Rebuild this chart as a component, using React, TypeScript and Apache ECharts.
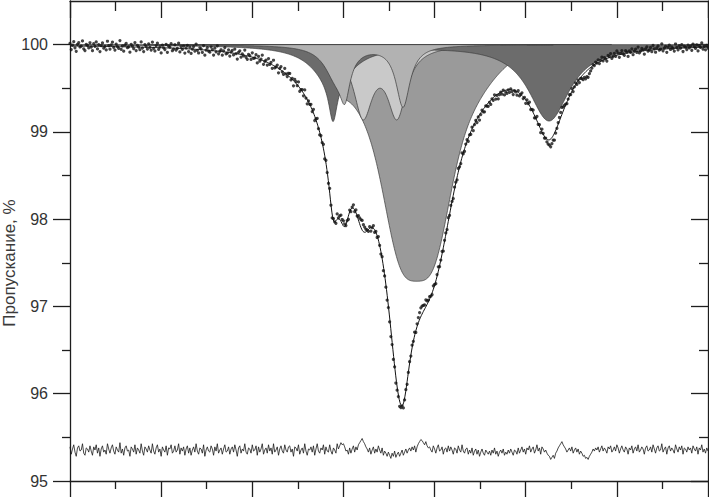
import React, { useEffect, useRef } from 'react';
import * as echarts from 'echarts';

// ---- axis frame (velocity axis has no labels) ----
const X_MIN = -3.5;
const X_MAX = 3.5;
const Y_MIN = 95;
const Y_MAX = 100.5;
const xMajorTicks = [-3.5, -2.5, -1.5, -0.5, 0.5, 1.5, 2.5, 3.5];
const xMinorTicks = [-3, -2, -1, 0, 1, 2, 3];
const yMajorTicks = [95, 96, 97, 98, 99, 100];
const yMinorTicks = [95.5, 96.5, 97.5, 98.5, 99.5];
const yAxisTitle = 'Пропускание, %';

// ---- fitted sub-spectra: [centre (mm/s), depth (%), half width (mm/s), shape] ----
// L = Lorentzian, G = Gaussian
const compDark = [
  [-0.614, 0.45, 0.055, 'L'],
  [-0.614, 0.42, 0.263, 'L'],
  [1.756, 0.87, 0.274, 'L'],
];
const compLight = [
  [-0.483, 0.42, 0.066, 'L'],
  [-0.582, 0.35, 0.154, 'L'],
  [0.154, 0.7, 0.093, 'L'],
];
const compPale = [
  [-0.285, 0.78, 0.128, 'L'],
  [0.088, 0.78, 0.128, 'L'],
];
const compMid = [
  [0.132, 1.0, 0.1975, 'G'],
  [0.483, 1.0, 0.1975, 'G'],
  [0.307, 1.55, 0.603, 'G'],
  [-0.538, 0.18, 0.132, 'L'],
];
// weak broad terms present in the total fit only
const fitExtra = [
  [1.756, 0.17, 0.132, 'L'],
  [-0.922, 0.16, 0.494, 'L'],
];

// ---- residual (data - fit), in 0.01 % units, one value per channel ----
const residual = [
  3, -4, 1, 5, -2, -6, 2, 4, -1, 0, 6, -3, -5, 2, 1, -2,
  4, -1, -5, 3, 0, 5, -3, 2, -6, 1, 4, -2, 0, -4, 6, 1,
  -3, 2, 5, -1, -4, 3, 0, -2, 7, -3, 1, -5, 2, 4, -1, 0,
  -6, 3, 1, -2, 5, -4, 2, 0, -3, 6, -1, -5, 3, 1, -2, 4,
  0, -3, 6, -1, -4, 2, 5, -2, 1, -6, 3, 0, -2, 4, -5, 2,
  1, 5, -3, -1, 4, -2, 0, 6, -4, 2, -1, 3, -5, 1, 4, -3,
  2, -5, 0, 3, -2, 6, -1, -4, 2, 1, -3, 5, -6, 0, 3, -1,
  -2, 4, 1, -5, 3, -1, 6, -3, 0, 2, -4, 1, 5, -2, -1, 3,
  -4, 1, 3, -2, 5, 0, -6, 2, 4, -3, 1, -1, 6, -2, -4, 2,
  1, -3, 5, -1, 0, 4, -5, 3, -2, 1, 6, -4, 0, 2, -3, 5,
  -1, 2, -4, 6, -2, 0, 3, -5, 1, 4, -1, -3, 5, 0, -2, 3,
  4, -2, 1, -6, 3, 2, -1, 5, -4, 0, 2, -3, 6, -1, -5, 1,
  0, 3, -2, 4, -5, 1, 6, -1, -3, 2, 0, 5, -4, 3, -1, -2,
  5, -1, -4, 2, 0, -3, 6, 1, 4, 7, 5, 6, 3, -1, 0, -4,
  2, -3, 1, 4, -2, 3, 0, 5, 7, 9, 11, 8, 6, 3, 1, -2,
  2, -4, 0, 3, -3, 1, -2, 4, 0, -3, 2, -5, -1, -3, -6, -2,
  -5, -8, -3, -6, -1, -7, -4, -2, -6, -3, 0, -5, -2, 1, -3, 0,
  2, -1, 3, 0, 4, -2, 3, 6, 8, 10, 9, 7, 5, 8, 4, 2,
  3, 0, -2, 4, 1, -3, 2, 5, -1, 0, 3, -4, 1, 2, -2, 4,
  -1, 3, 0, -4, 2, 1, -3, 4, 0, -2, 5, -1, -3, 1, 2, -4,
  0, -3, 2, -5, -1, 1, -4, 0, -6, -2, 1, -3, -5, 0, -2, -4,
  -1, -5, 0, -3, 2, -4, -1, -6, -2, 0, -3, 1, -5, -2, -4, 0,
  -3, 1, -2, -5, 0, -1, -4, 2, -3, 0, 3, -2, 1, -4, 2, 0,
  4, -2, 1, 3, -3, 0, 5, -1, 2, -4, 3, 1, -2, 0, -3, -5,
  -6, -9, -7, -5, -8, -3, -1, 2, 4, 6, 8, 5, 3, 1, -2, 0,
  2, -1, 3, -3, 0, 2, -2, 1, -4, -1, -3, -6, -5, -8, -7, -9,
  -6, -4, -2, 1, -1, 2, 0, 3, -2, 1, 4, -1, 2, 0, -3, 3,
  1, 4, -2, 0, 3, -1, 5, 2, -3, 1, 4, 0, -2, 3, 1, -4,
  2, 0, 4, -3, 1, 3, -1, 5, -2, 0, 3, 1, -4, 2, 4, -1,
  0, 3, -2, 5, 1, -3, 2, 4, -1, 0, 6, -2, 1, 3, -4, 2,
  4, -1, 2, 0, -3, 5, 1, -2, 3, 0, 4, -4, 2, 1, -2, 3,
  0, 2, -3, 4, 1, -1, 3, -4, 2, 0, 5, -2, 1, -3, 2, -1,
];
const RESIDUAL_LEVEL = 95.355;
const RESIDUAL_GAIN = 1.2;
const DATA_SCATTER = 1.0;

type Line = (number | string)[];

function absorb(lines: Line[], x: number): number {
  let s = 0;
  for (const ln of lines) {
    const c = ln[0] as number;
    const a = ln[1] as number;
    const w = ln[2] as number;
    const d = (x - c) / w;
    s += ln[3] === 'G' ? a * Math.exp(-Math.LN2 * d * d) : a / (1 + d * d);
  }
  return s;
}

const allComps = [compDark, compLight, compPale, compMid];
const totalAbs = (x: number) =>
  allComps.reduce((s, c) => s + absorb(c as Line[], x), 0) + absorb(fitExtra as Line[], x);

const FINE = 900;
const fineX = Array.from({ length: FINE }, (_, i) => X_MIN + (i * (X_MAX - X_MIN)) / (FINE - 1));
const channelX = residual.map((_, i) => X_MIN + (i * (X_MAX - X_MIN)) / (residual.length - 1));

function compPolygon(lines: Line[]): number[][] {
  const vals = fineX.map((x) => absorb(lines, x));
  let first = vals.findIndex((v) => v > 0.004);
  let last = vals.length - 1;
  while (last > 0 && vals[last] <= 0.004) last--;
  if (first < 0) first = 0;
  const pts: number[][] = [[fineX[first], 100]];
  for (let i = first; i <= last; i++) pts.push([fineX[i], 100 - vals[i]]);
  pts.push([fineX[last], 100]);
  return pts;
}

const fills = [
  { lines: compMid, color: '#9a9a9a' },
  { lines: compPale, color: '#c9c9c9' },
  { lines: compDark, color: '#6c6c6c' },
  { lines: compLight, color: '#b2b2b2' },
];

const FONT = "'Liberation Sans', Arial, Helvetica, sans-serif";
const AXIS_COLOR = '#1e1e1e';

export default function App() {
  const ref = useRef<HTMLDivElement>(null);

  useEffect(() => {
    if (!ref.current) return;
    const chart = echarts.init(ref.current, undefined, { renderer: 'svg' });

    const fitData = fineX.map((x) => [x, 100 - totalAbs(x)]);
    const pointData = channelX.map((x, i) => [x, 100 - totalAbs(x) + (DATA_SCATTER * residual[i]) / 100]);
    const residData = channelX.map((x, i) => [x, RESIDUAL_LEVEL + (RESIDUAL_GAIN * residual[i]) / 100]);

    const xAx = (position: string, ticks: number[], len: number, inside: boolean, showLine: boolean) => ({
      type: 'value',
      position,
      min: X_MIN,
      max: X_MAX,
      gridIndex: 0,
      axisLine: { show: showLine, onZero: false, lineStyle: { color: AXIS_COLOR, width: 1.3 } },
      axisTick: { show: true, inside, length: len, customValues: ticks, lineStyle: { color: AXIS_COLOR, width: 1.3 } },
      axisLabel: { show: false },
      splitLine: { show: false },
    });
    const yAx = (position: string, ticks: number[], len: number, inside: boolean, showLine: boolean, labels: boolean) => ({
      type: 'value',
      position,
      min: Y_MIN,
      max: Y_MAX,
      gridIndex: 0,
      axisLine: { show: showLine, onZero: false, lineStyle: { color: AXIS_COLOR, width: 1.3 } },
      axisTick: { show: true, inside, length: len, customValues: ticks, lineStyle: { color: AXIS_COLOR, width: 1.3 } },
      axisLabel: labels
        ? {
            show: true,
            customValues: yMajorTicks,
            margin: 22,
            fontSize: 16,
            color: '#333',
            fontFamily: FONT,
            formatter: (v: number) => String(Math.round(v)),
          }
        : { show: false },
      splitLine: { show: false },
    });

    const fillSeries = fills.map((f, k) => {
      const poly = compPolygon(f.lines as Line[]);
      return {
        type: 'custom',
        xAxisIndex: 0,
        yAxisIndex: 0,
        z: 1 + k * 0.01,
        silent: true,
        clip: true,
        data: [[0, 100]],
        renderItem: (_p: any, api: any) => ({
          type: 'polygon',
          z2: k,
          shape: { points: poly.map((p) => api.coord(p)) },
          style: { fill: f.color, stroke: '#3a3a3a', lineWidth: 0.7 },
        }),
      };
    });

    chart.setOption({
      animation: false,
      backgroundColor: '#ffffff',
      grid: { left: 70, right: 1, top: 1, bottom: 18 },
      xAxis: [
        xAx('bottom', xMajorTicks, 16, false, true),
        xAx('bottom', xMinorTicks, 8, false, false),
        xAx('top', xMajorTicks, 17, true, true),
        xAx('top', xMinorTicks, 10, true, false),
      ],
      yAxis: [
        yAx('left', yMajorTicks, 17, false, true, true),
        yAx('left', yMinorTicks, 8, false, false, false),
        yAx('right', yMajorTicks, 17, true, true, false),
        yAx('right', yMinorTicks, 9, true, false, false),
      ],
      graphic: [
        {
          type: 'text',
          x: 9,
          y: 263,
          rotation: Math.PI / 2,
          style: {
            text: yAxisTitle,
            fontSize: 17,
            fontFamily: FONT,
            fill: '#3a3a3a',
            textAlign: 'center',
            textVerticalAlign: 'middle',
          },
        },
      ],
      series: [
        ...fillSeries,
        {
          type: 'scatter',
          xAxisIndex: 0,
          yAxisIndex: 0,
          z: 3,
          symbol: 'circle',
          symbolSize: 3.2,
          itemStyle: { color: '#151515' },
          data: pointData,
          silent: true,
        },
        {
          type: 'line',
          xAxisIndex: 0,
          yAxisIndex: 0,
          z: 4,
          showSymbol: false,
          symbol: 'none',
          lineStyle: { color: '#111', width: 1 },
          data: fitData,
          silent: true,
        },
        {
          type: 'line',
          xAxisIndex: 0,
          yAxisIndex: 0,
          z: 4,
          showSymbol: false,
          symbol: 'none',
          lineStyle: { color: '#1a1a1a', width: 0.8 },
          data: residData,
          silent: true,
        },
      ],
    });

    return () => chart.dispose();
  }, []);

  return <div ref={ref} style={{ width: 709, height: 499, position: 'absolute', left: 0, top: 0 }} />;
}
